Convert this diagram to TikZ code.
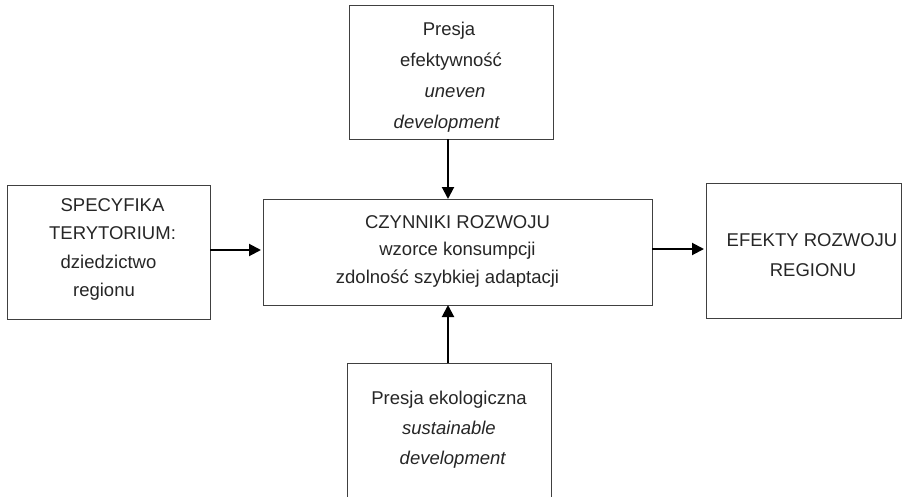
\documentclass[tikz,border=0pt]{standalone}
\usepackage{fontspec}
\setmainfont{Liberation Sans}
\usetikzlibrary{arrows.meta}
\tikzset{
  box/.style={draw=black!75, line width=1pt, inner sep=0pt, outer sep=0pt, align=center, text=black!85},
  conn/.style={line width=2pt, -{Triangle[length=12pt,width=12pt]}, black},
}
\newcommand\tpstrut[1]{\rule{0pt}{#1}}
\newcommand\btstrut[1]{\rule[-#1]{0pt}{#1}}
\begin{document}
\begin{tikzpicture}[x=1pt,y=-1pt]
\clip (0,0) rectangle (903,496);
\fill[white] (0,0) rectangle (903,496);
\node[box, minimum width=204pt, minimum height=134pt, font=\fontsize{18.5}{30.8}\selectfont] (tbox) at (451,72)
  {\tpstrut{24.8pt}Presja\hspace*{4pt}\\ efektywność\hspace*{12pt}\\ \hspace*{8pt}\textit{uneven}\\ \textit{development}\hspace*{8pt}\btstrut{5pt}};
\node[box, minimum width=203pt, minimum height=134pt, font=\fontsize{18.5}{28.1}\selectfont] (lbox) at (108.5,252)
  {\tpstrut{14pt}\hspace*{8pt}SPECYFIKA\\ \hspace*{8pt}TERYTORIUM:\\ dziedzictwo\hspace*{9pt}\\ regionu\hspace*{9pt}\btstrut{10pt}};
\node[box, minimum width=389pt, minimum height=106pt, font=\fontsize{18.5}{27.5}\selectfont] (ctr) at (457.5,252)
  {\tpstrut{14pt}CZYNNIKI ROZWOJU\\ wzorce konsumpcji\hspace*{19pt}\\ zdolność szybkiej adaptacji\hspace*{20pt}\btstrut{6.4pt}};
\node[box, minimum width=195pt, minimum height=135pt, font=\fontsize{18.5}{30}\selectfont] (rbox) at (803.5,250.5)
  {\tpstrut{22.9pt}\hspace*{17pt}EFEKTY ROZWOJU\\ \hspace*{19pt}REGIONU\btstrut{0.5pt}};
\node[box, minimum width=204pt, minimum height=140pt, font=\fontsize{18.5}{30}\selectfont] (bbox) at (449,433)
  {\tpstrut{14pt}Presja ekologiczna\\ \textit{sustainable}\\ \hspace*{8pt}\textit{development}\btstrut{12pt}};
\draw[conn] ([xshift=-3pt]tbox.south) -- ([xshift=-3pt]tbox.south |- ctr.north);
\draw[conn, shorten >=2pt] ([yshift=2pt]lbox.east) -- ([yshift=2pt]lbox.east -| ctr.west);
\draw[conn, shorten >=2pt] ([yshift=3pt]ctr.east) -- ([yshift=3pt]ctr.east -| rbox.west);
\draw[conn] ([xshift=-1pt]bbox.north) -- ([xshift=-1pt]bbox.north |- ctr.south);
\end{tikzpicture}
\end{document}
